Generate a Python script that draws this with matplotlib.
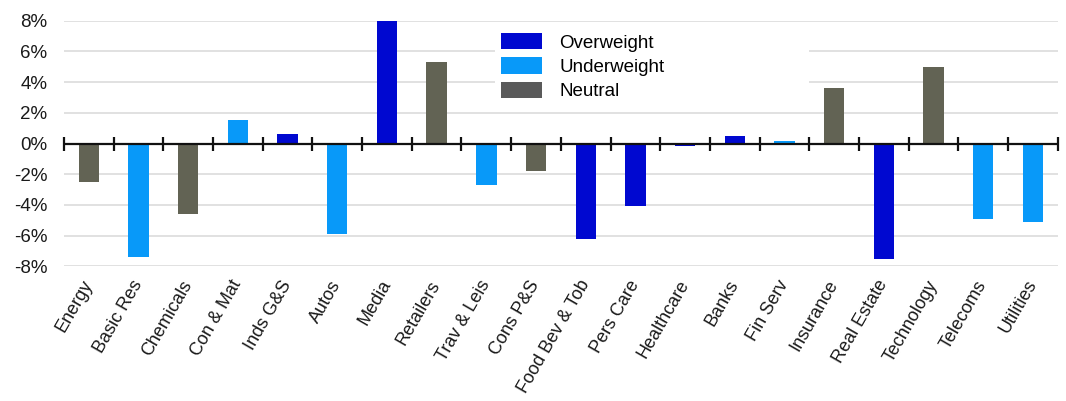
import matplotlib
matplotlib.use("Agg")
import matplotlib.pyplot as plt
from matplotlib.patches import Patch, Rectangle
import numpy as np

plt.rcParams["font.family"] = ["Liberation Sans", "DejaVu Sans"]

# Sector positioning data (% relative weight)
sectors = ["Energy", "Basic Res", "Chemicals", "Con & Mat", "Inds G&S", "Autos",
           "Media", "Retailers", "Trav & Leis", "Cons P&S", "Food Bev & Tob",
           "Pers Care", "Healthcare", "Banks", "Fin Serv", "Insurance",
           "Real Estate", "Technology", "Telecoms", "Utilities"]
values = [-2.5, -7.4, -4.6, 1.5, 0.6, -5.9, 8.0, 5.3, -2.7, -1.8, -6.2,
          -4.1, -0.15, 0.5, 0.15, 3.6, -7.5, 5.0, -4.9, -5.1]
stance = ["N", "U", "N", "U", "O", "U", "O", "N", "U", "N", "O",
          "O", "O", "O", "U", "N", "O", "N", "U", "U"]

stance_labels = {"O": "Overweight", "U": "Underweight", "N": "Neutral"}
bar_colors = {"O": "#0008D0", "U": "#0899F9", "N": "#626354"}
legend_colors = {"O": "#0008D0", "U": "#0899F9", "N": "#5A5A5A"}

W, H = 1066, 401
fig = plt.figure(figsize=(W / 100, H / 100), dpi=100)
ax = fig.add_axes([64 / W, 1 - 266.3 / H, (1057.7 - 64) / W, (266.3 - 20.7) / H])

x = np.arange(len(sectors))
ax.bar(x, values, width=0.41, color=[bar_colors[s] for s in stance], zorder=3)

ax.set_xlim(-0.5, len(sectors) - 0.5)
ax.set_ylim(-8, 8)
ax.set_yticks(np.arange(-8, 9, 2))
ax.set_yticklabels([f"{v}%" for v in range(-8, 9, 2)])
ax.yaxis.grid(True, color="#DCDCDC", linewidth=1.2, zorder=0)
ax.set_axisbelow(True)

for sp in ax.spines.values():
    sp.set_visible(False)

ax.tick_params(axis="y", length=0, pad=12, labelsize=13.5, labelcolor="#1a1a1a")
ax.set_xticks(x)
ax.set_xticklabels(sectors, rotation=60, ha="right", va="center",
                   rotation_mode="anchor", fontsize=13, color="#1a1a1a")
ax.tick_params(axis="x", length=0, pad=11)

# zero line with category separator marks
ax.axhline(0, color="#111111", linewidth=1.6, zorder=4)
bounds = np.arange(-0.5, len(sectors), 1.0)
ax.plot(bounds, np.zeros_like(bounds), ls="none", marker="|", ms=9.5,
        mew=1.6, color="#111111", zorder=5, clip_on=False)

# white backdrop behind the legend
ax.add_patch(Rectangle((495, 401 - 100), 314, 72, transform=None,
                       facecolor="white", edgecolor="none", zorder=1))

handles = [Patch(facecolor=legend_colors[k], edgecolor="none", label=stance_labels[k])
           for k in ["O", "U", "N"]]
leg = ax.legend(handles=handles, loc="upper left", frameon=False,
                bbox_to_anchor=(488 / W, 1 - 20 / H), bbox_transform=fig.transFigure,
                fontsize=13.5, handlelength=2.2, handleheight=0.96,
                labelspacing=0.3, handletextpad=0.9, borderpad=0.2)
leg.set_zorder(6)

fig.savefig("out.png", dpi=100)
